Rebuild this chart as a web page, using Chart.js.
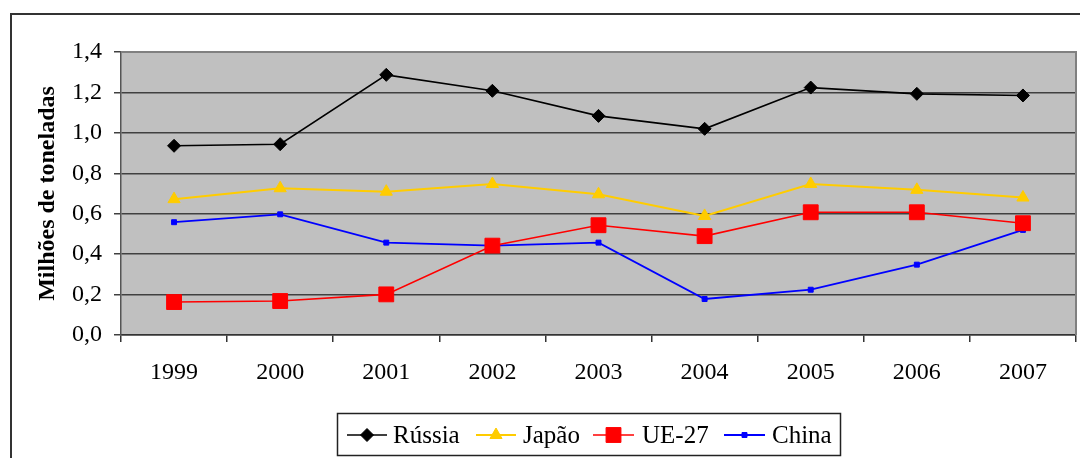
<!DOCTYPE html>
<html>
<head>
<meta charset="utf-8">
<script src="https://cdn.jsdelivr.net/npm/chart.js@4.4.1/dist/chart.umd.min.js"></script>
<style>
html,body{margin:0;padding:0;background:#fff;}
#wrap{position:relative;width:1080px;height:458px;}
canvas{display:block;}
</style>
</head>
<body>
<div id="wrap"><canvas id="c" width="1080" height="458"></canvas></div>
<script>
const categories = ['1999','2000','2001','2002','2003','2004','2005','2006','2007'];
const russia = [0.936, 0.944, 1.287, 1.208, 1.084, 1.02, 1.224, 1.193, 1.185];
const japao  = [0.672, 0.726, 0.709, 0.747, 0.696, 0.589, 0.747, 0.718, 0.68];
const ue27   = [0.163, 0.168, 0.201, 0.442, 0.543, 0.489, 0.607, 0.607, 0.553];
const china  = [0.558, 0.597, 0.457, 0.442, 0.457, 0.178, 0.224, 0.348, 0.52];
const yTicks = ['0,0','0,2','0,4','0,6','0,8','1,0','1,2','1,4'];
const seriesNames = ['Rússia','Japão','UE-27','China'];
const yTitle = 'Milhões de toneladas';

const FONT = '"Liberation Serif", "Times New Roman", serif';

const bgPlugin = {
  id: 'bg',
  beforeDraw(chart) {
    const {ctx, chartArea: a} = chart;
    ctx.save();
    ctx.fillStyle = '#fff';
    ctx.fillRect(0, 0, chart.width, chart.height);
    ctx.fillStyle = '#c0c0c0';
    ctx.fillRect(a.left, a.top, a.right - a.left, a.bottom - a.top);
    ctx.strokeStyle = '#333';
    ctx.lineWidth = 2;
    ctx.beginPath();
    ctx.moveTo(11, 459); ctx.lineTo(11, 14); ctx.lineTo(1081, 14);
    ctx.stroke();
    ctx.restore();
  },
  beforeDatasetsDraw(chart) {
    const {ctx, chartArea: a} = chart;
    ctx.save();
    ctx.strokeStyle = '#808080';
    ctx.lineWidth = 2;
    ctx.beginPath();
    ctx.moveTo(a.left, a.top); ctx.lineTo(a.right, a.top); ctx.lineTo(a.right, a.bottom);
    ctx.stroke();
    ctx.restore();
  }
};

const legendPlugin = {
  id: 'boxLegend',
  afterDraw(chart) {
    const ctx = chart.ctx;
    ctx.save();
    ctx.strokeStyle = '#222';
    ctx.lineWidth = 1.5;
    ctx.strokeRect(337.5, 413.5, 503, 42);
    const items = [
      {x0: 347, x1: 387, tx: 393},
      {x0: 476, x1: 516, tx: 523},
      {x0: 593, x1: 634, tx: 642},
      {x0: 724, x1: 765, tx: 772}
    ];
    const y = 435;
    chart.data.datasets.forEach((ds, i) => {
      const it = items[i];
      ctx.strokeStyle = ds.borderColor;
      ctx.lineWidth = ds.borderWidth;
      ctx.beginPath();
      ctx.moveTo(it.x0, y); ctx.lineTo(it.x1, y);
      ctx.stroke();
      const mx = (it.x0 + it.x1) / 2;
      if (Chart.helpers && Chart.helpers.drawPoint) {
        ctx.fillStyle = ds.pointBackgroundColor;
        ctx.strokeStyle = ds.pointBorderColor;
        ctx.lineWidth = 1;
        Chart.helpers.drawPoint(ctx, {pointStyle: ds.pointStyle, radius: ds.pointRadius, rotation: 0, borderWidth: 1}, mx, y);
      }
      ctx.fillStyle = '#000';
      ctx.font = '25px ' + FONT;
      ctx.textBaseline = 'middle';
      ctx.textAlign = 'left';
      ctx.fillText(ds.label, it.tx, y + 1);
    });
    ctx.restore();
  }
};

const colors = ['#000000', '#FFCC00', '#FF0000', '#0000FF'];
const styles = ['rectRot', 'triangle', 'rect', 'rect'];
const radii = [6.5, 7, 10.5, 3.5];
const widths = [1.6, 2, 1.6, 1.8];
const dataArr = [russia, japao, ue27, china];

const datasets = seriesNames.map((n, i) => ({
  label: n,
  data: dataArr[i],
  borderColor: colors[i],
  backgroundColor: colors[i],
  pointBackgroundColor: colors[i],
  pointBorderColor: colors[i],
  pointBorderWidth: 1,
  borderWidth: widths[i],
  pointStyle: styles[i],
  pointRadius: radii[i],
  tension: 0,
  fill: false
}));

new Chart(document.getElementById('c'), {
  type: 'line',
  data: {labels: categories, datasets: datasets},
  options: {
    responsive: false,
    animation: false,
    events: [],
    layout: {autoPadding: false, padding: {left: 0, right: 4, top: 52, bottom: 63}},
    plugins: {legend: {display: false}, tooltip: {enabled: false}},
    scales: {
      x: {
        offset: true,
        grid: {display: true, drawOnChartArea: false, offset: true, tickLength: 7, color: '#333', lineWidth: 1.5},
        border: {color: '#333', width: 1.5},
        ticks: {color: '#000', font: {family: FONT, size: 24}, padding: 16, maxRotation: 0},
        afterFit(s) { s.height = 60; s.paddingLeft = 0; s.paddingRight = 0; }
      },
      y: {
        min: 0, max: 1.4,
        grid: {color: '#404040', lineWidth: 1.5, tickLength: 7},
        border: {color: '#555', width: 1.5},
        ticks: {
          stepSize: 0.2, color: '#000', font: {family: FONT, size: 24}, padding: 12,
          callback: (v) => yTicks[Math.round(v / 0.2)]
        },
        title: {display: true, text: yTitle, color: '#000', font: {family: FONT, size: 24, weight: 'bold'}, padding: {top: 33, bottom: 0}},
        afterFit(s) { s.width = 121; s.paddingTop = 0; s.paddingBottom = 0; }
      }
    }
  },
  plugins: [bgPlugin, legendPlugin]
});
</script>
</body>
</html>
